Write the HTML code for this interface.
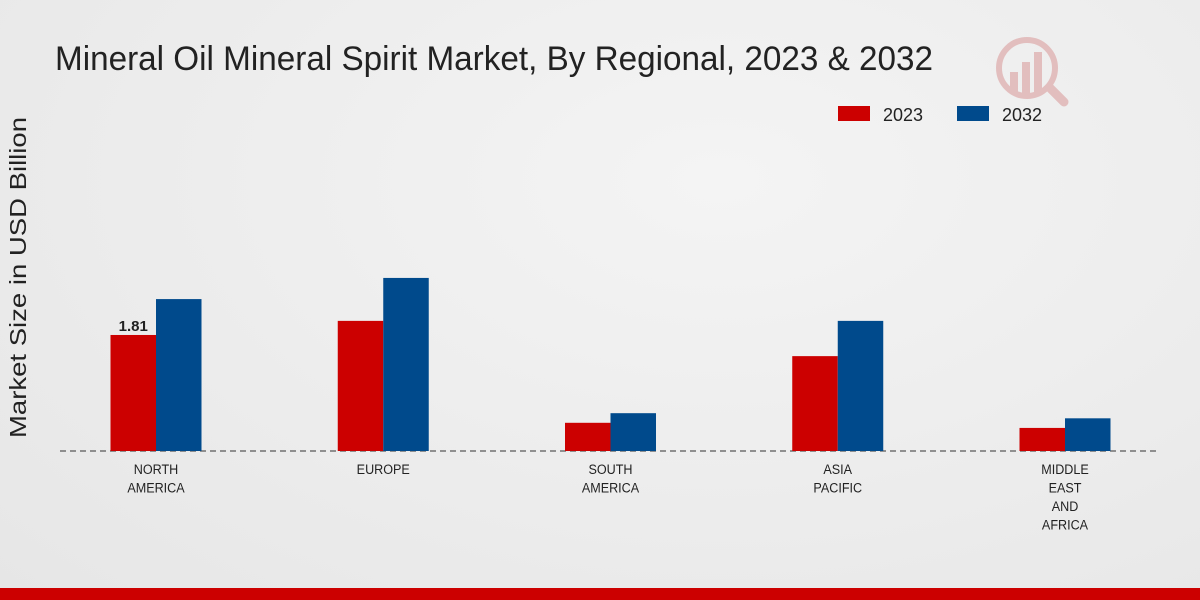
<!DOCTYPE html>
<html><head><meta charset="utf-8"><style>
body{margin:0;width:1200px;height:600px;overflow:hidden;font-family:"Liberation Sans",sans-serif;}
#bg{position:absolute;left:0;top:0;width:1200px;height:600px;background:radial-gradient(ellipse at 60% 30%,#f4f4f4 0%,#e6e6e6 100%);}
</style></head><body>
<div id="bg"></div>
<svg id="chart" width="1200" height="600" style="position:absolute;left:0;top:0">
<text x="55" y="70" font-size="34" fill="#222" textLength="878" lengthAdjust="spacingAndGlyphs">Mineral Oil Mineral Spirit Market, By Regional, 2023 &amp; 2032</text>
<g opacity="0.35">
<circle cx="1027" cy="68" r="28" fill="none" stroke="#c66" stroke-width="6"/>
<rect x="1010" y="72" width="8" height="22" fill="#c66"/><rect x="1022" y="62" width="8" height="32" fill="#c66"/><rect x="1034" y="52" width="8" height="42" fill="#c66"/>
<line x1="1050" y1="88" x2="1064" y2="102" stroke="#c66" stroke-width="9" stroke-linecap="round"/>
</g>
<g>
<rect x="838" y="106" width="32" height="15" fill="#cc0000"/>
<text x="883" y="121" font-size="18" fill="#222">2023</text>
<rect x="957" y="106" width="32" height="15" fill="#004a8c"/>
<text x="1002" y="121" font-size="18" fill="#222">2032</text>
</g>
<text transform="translate(26,278) rotate(-90)" x="-160" y="0" font-size="23" fill="#222" textLength="321" lengthAdjust="spacingAndGlyphs">Market Size in USD Billion</text>
<line x1="60" y1="451" x2="1160" y2="451" stroke="#333" stroke-dasharray="6,4"/>
<g id="bars"></g>
</svg>
<div style="position:absolute;left:0;top:588px;width:1200px;height:12px;background:#cc0000"></div>
<script>
const categories=[["NORTH","AMERICA"],["EUROPE"],["SOUTH","AMERICA"],["ASIA","PACIFIC"],["MIDDLE","EAST","AND","AFRICA"]];
const values2023=[1.81,2.03,0.44,1.48,0.36];
const values2032=[2.37,2.70,0.59,2.03,0.51];
const ns="http://www.w3.org/2000/svg";
const g=document.getElementById('bars');
const baseY=451, pxPerUnit=64.1;
const y=v=>baseY-v*pxPerUnit;
const xc=i=>156+i*227.25;
const bw=45.5;
function rect(x,v,color,name){
 const r=document.createElementNS(ns,'rect');
 r.setAttribute('x',x);r.setAttribute('y',y(v));r.setAttribute('width',bw);r.setAttribute('height',baseY-y(v));r.setAttribute('fill',color);
 
 
 g.appendChild(r);
}
categories.forEach((c,i)=>{
 rect(xc(i)-bw,values2023[i],'#cc0000','bar-2023-'+i);
 rect(xc(i),values2032[i],'#004a8c','bar-2032-'+i);
 const t=document.createElementNS(ns,'text');
 t.setAttribute('text-anchor','middle');t.setAttribute('font-size','14');t.setAttribute('fill','#222');
 
 
 c.forEach((line,k)=>{const s=document.createElementNS(ns,'tspan');s.setAttribute('x',xc(i));s.setAttribute('y',474+k*18.5);s.textContent=line;t.appendChild(s);});
 t.setAttribute('transform','translate('+xc(i)+',0) scale(0.9,1) translate('+(-xc(i))+',0)');
 g.appendChild(t);
});
const lbl=document.createElementNS(ns,'text');
lbl.setAttribute('x',xc(0)-bw/2);lbl.setAttribute('y',y(values2023[0])-4);lbl.setAttribute('text-anchor','middle');
lbl.setAttribute('font-size','15');lbl.setAttribute('font-weight','bold');lbl.setAttribute('fill','#222');


lbl.textContent=values2023[0].toFixed(2);
g.appendChild(lbl);
</script>
</body></html>
